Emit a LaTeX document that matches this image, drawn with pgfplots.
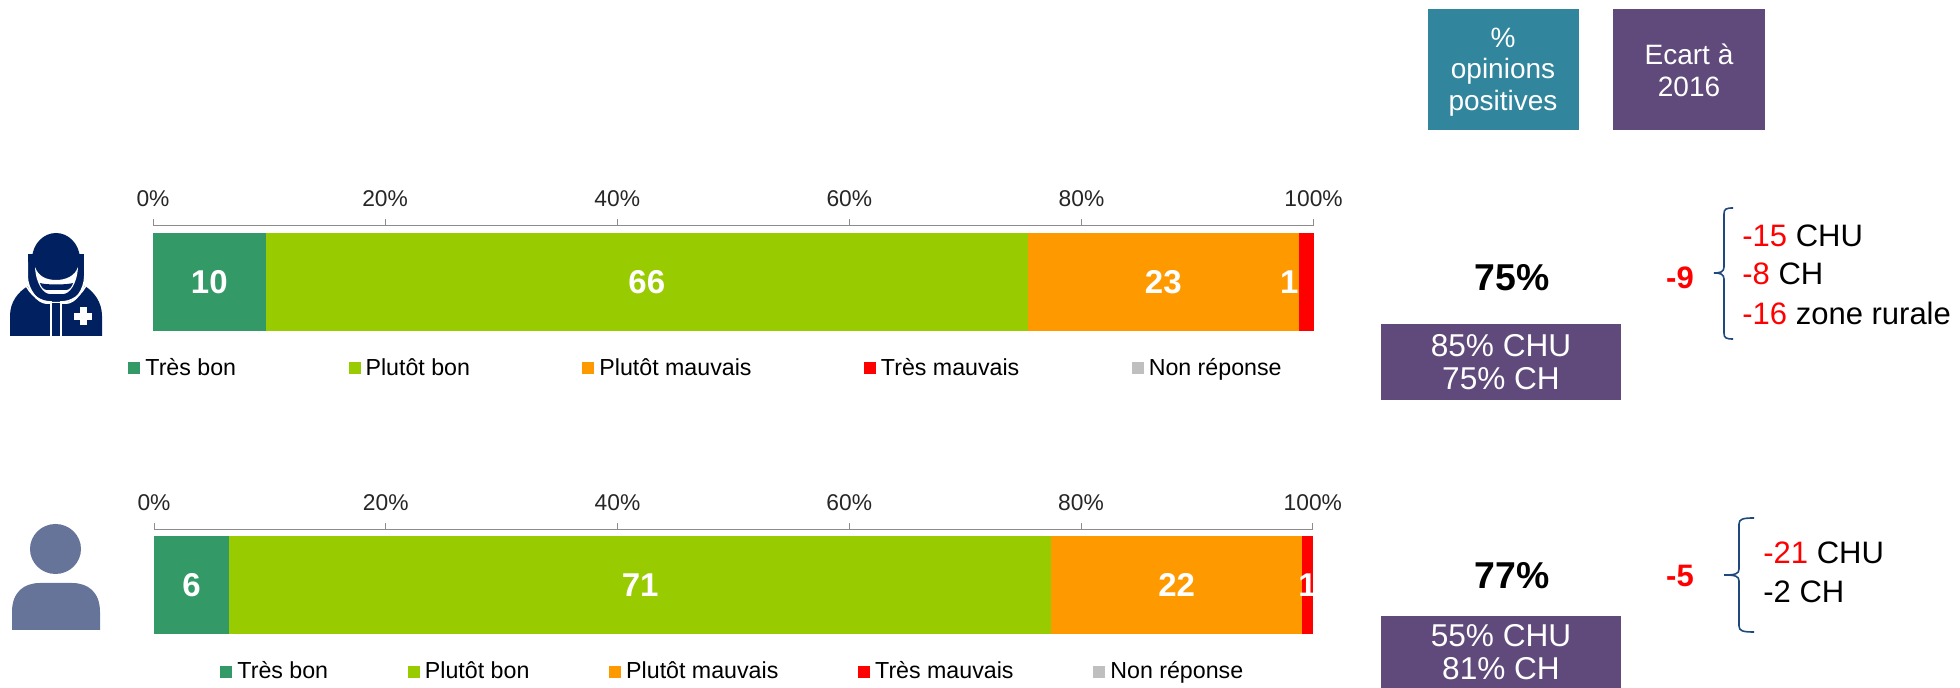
\documentclass[border=0pt]{standalone}
\usepackage{fontspec}
\setmainfont{Liberation Sans}
\usepackage{pgfplots}
\pgfplotsset{compat=1.18}
\definecolor{vert}{HTML}{339966}
\definecolor{lime}{HTML}{99CC00}
\definecolor{orange}{HTML}{FF9900}
\definecolor{rouge}{HTML}{FF0000}
\definecolor{nr}{HTML}{BFBFBF}
\definecolor{teal}{HTML}{31859C}
\definecolor{violet}{HTML}{604A7B}
\definecolor{navy}{HTML}{002060}
\definecolor{person}{HTML}{66749A}
\definecolor{brace}{HTML}{1F497D}
\definecolor{axisgrey}{HTML}{8C8C8C}
\definecolor{ticktext}{HTML}{262626}

\newcommand{\fpx}[1]{\fontsize{#1}{#1}\selectfont}

\pgfplotsset{
  satisfaction/.style={
    xbar stacked, scale only axis, clip=false,
    xmin=0, xmax=100, ymin=-1, ymax=1,
    bar width=49pt,
    axis y line=none,
    axis x line=top,
    x axis line style={-, draw=axisgrey, line width=0.5pt},
    tick align=outside, major tick length=3.5pt,
    xtick style={draw=axisgrey, line width=0.4pt},
    xtick={0,20,40,60,80,100},
    xticklabels={0\%,20\%,40\%,60\%,80\%,100\%},
    xticklabel style={font=\fpx{11.4}, text=ticktext, yshift=2.6pt},
    legend image code/.code={\fill[##1] (0pt,-3pt) rectangle (6pt,3pt);},
    legend cell align=left,
  },
  seg/.style={
    draw=none, fill=#1,
    point meta=explicit symbolic,
  },
  lab/.style={
    nodes near coords,
    nodes near coords style={anchor=center, xshift=#1, text=white, font=\fpx{16.5}\bfseries},
  },
  lab/.default=0pt,
}

\begin{document}
\begin{tikzpicture}[x=0.5pt,y=-0.5pt]
\path[use as bounding box] (0,0) rectangle (1960,688);

% en-tetes
\fill[teal] (1428,9) rectangle (1579,130);
\fill[violet] (1613,9) rectangle (1765,130);
\node[align=center, text=white, font=\fontsize{14}{15.6}\selectfont] at (1503,72) {\%\\opinions\\positives};
\node[align=center, text=white, font=\fontsize{14}{16}\selectfont] at (1689,70) {Ecart à\\2016};

% panneau 1
\begin{axis}[satisfaction, at={(76.5pt,-169pt)}, anchor=south west, width=580.3pt, height=56pt,
  legend columns=5,
  legend style={draw=none, fill=none, inner sep=0pt, at={(-0.0215,-0.27)}, anchor=west,
    nodes={font=\fpx{11.6}, inner xsep=2.5pt, inner ysep=1pt, anchor=west},
    /tikz/every even column/.append style={column sep=53.7pt}}]
\addplot[seg=vert, lab] coordinates {(9.7,0) [10]};
\addplot[seg=lime, lab] coordinates {(65.7,0) [66]};
\addplot[seg=orange, lab] coordinates {(23.3,0) [23]};
\addplot[seg=rouge, lab=-8.4pt] coordinates {(1.3,0) [1]};
\addplot[seg=nr] coordinates {(0,0)};
\legend{Très bon, Plutôt bon, Plutôt mauvais, Très mauvais, Non réponse}
\end{axis}

% panneau 2
\begin{axis}[satisfaction, at={(77pt,-320pt)}, anchor=south west, width=579.4pt, height=55pt,
  legend columns=5,
  legend style={draw=none, fill=none, inner sep=0pt, at={(0.057,-0.29)}, anchor=west,
    nodes={font=\fpx{11.6}, inner xsep=2.5pt, inner ysep=1pt, anchor=west},
    /tikz/every even column/.append style={column sep=37.4pt}}]
\addplot[seg=vert, lab] coordinates {(6.5,0) [6]};
\addplot[seg=lime, lab] coordinates {(70.9,0) [71]};
\addplot[seg=orange, lab] coordinates {(21.7,0) [22]};
\addplot[seg=rouge, lab] coordinates {(0.9,0) [1]};
\addplot[seg=nr] coordinates {(0,0)};
\legend{Très bon, Plutôt bon, Plutôt mauvais, Très mauvais, Non réponse}
\end{axis}

% colonnes de droite, panneau 1
\node[font=\fpx{18.7}\bfseries] at (1512,278) {75\%};
\fill[violet] (1381,324) rectangle (1621,400);
\node[align=center, text=white, font=\fpx{15.8}] at (1501,362) {85\% CHU\\[1pt]75\% CH};
\node[text=rouge, font=\fpx{15.5}\bfseries] at (1680,278) {-9};
\draw[brace, line width=0.8pt] (1733,208) .. controls (1726,208) and (1724,209) .. (1724,214) -- (1724,267)
  .. controls (1724,272) and (1720,273) .. (1714,273) .. controls (1720,273) and (1724,274) .. (1724,279)
  -- (1724,333) .. controls (1724,338) and (1726,339) .. (1733,339);
\node[anchor=west, inner sep=0pt, font=\fpx{15.5}] at (1742,236) {\textcolor{rouge}{-15} CHU};
\node[anchor=west, inner sep=0pt, font=\fpx{15.5}] at (1742,274) {\textcolor{rouge}{-8} CH};
\node[anchor=west, inner sep=0pt, font=\fpx{15.5}] at (1742,313) {\textcolor{rouge}{-16} zone rurale};

% colonnes de droite, panneau 2
\node[font=\fpx{18.7}\bfseries] at (1512,576) {77\%};
\fill[violet] (1381,616) rectangle (1621,688);
\node[align=center, text=white, font=\fpx{15.8}] at (1501,652) {55\% CHU\\[1pt]81\% CH};
\node[text=rouge, font=\fpx{15.5}\bfseries] at (1680,576) {-5};
\draw[brace, line width=0.8pt] (1754,518) .. controls (1743,518) and (1739,519) .. (1739,524) -- (1739,569)
  .. controls (1739,574) and (1735,575) .. (1724,575) .. controls (1735,575) and (1739,576) .. (1739,581)
  -- (1739,626) .. controls (1739,631) and (1743,632) .. (1754,632);
\node[anchor=west, inner sep=0pt, font=\fpx{15.5}] at (1763,553) {\textcolor{rouge}{-21} CHU};
\node[anchor=west, inner sep=0pt, font=\fpx{15.5}] at (1763,592) {-2 CH};

% icone soignant
\fill[navy] (10,336) -- (10,316) .. controls (10,302) and (18,292) .. (28,286) -- (85,286)
  .. controls (94,292) and (102,302) .. (102,316) -- (102,336) -- cycle;
\fill[navy, draw=white, line width=1pt] (27,255) -- (27,276) .. controls (27,290) and (38,303) .. (47,303)
  -- (66,303) .. controls (75,303) and (85,290) .. (85,276) -- (85,255) -- cycle;
\fill[navy] (32,258) .. controls (33,243) and (44,233) .. (56,233) .. controls (68,233) and (79,243) .. (80,258) -- cycle;
\fill[navy] (28,254) rectangle (84,262);
\fill[white] (35,267) .. controls (36,285) and (44,294) .. (50,294) -- (63,294) .. controls (69,294) and (77,285) .. (78,267)
  .. controls (75,276) and (66,280) .. (56,280) .. controls (46,280) and (38,276) .. (35,267) -- cycle;
\fill[navy] (40,283) .. controls (46,285) and (66,285) .. (73,283) .. controls (72,287) and (69,290) .. (66,290) -- (47,290)
  .. controls (44,290) and (41,287) .. (40,283) -- cycle;
\draw[white, line width=0.8pt] (51,336) -- (51,302) .. controls (40,302) and (30,295) .. (25,283);
\draw[white, line width=0.8pt] (61,336) -- (61,302) .. controls (72,302) and (82,295) .. (87,283);
\fill[navy] (52,303) rectangle (60,336);
\fill[white] (80,307) rectangle (87,325);
\fill[white] (74,313) rectangle (92,320);

% icone patient
\fill[person] (55.5,549) ellipse [x radius=25.5, y radius=25];
\fill[person] (12,630) -- (12,612) .. controls (12,592) and (24,583) .. (40,583) -- (72,583)
  .. controls (88,583) and (100,592) .. (100,612) -- (100,630) -- cycle;
\end{tikzpicture}
\end{document}
